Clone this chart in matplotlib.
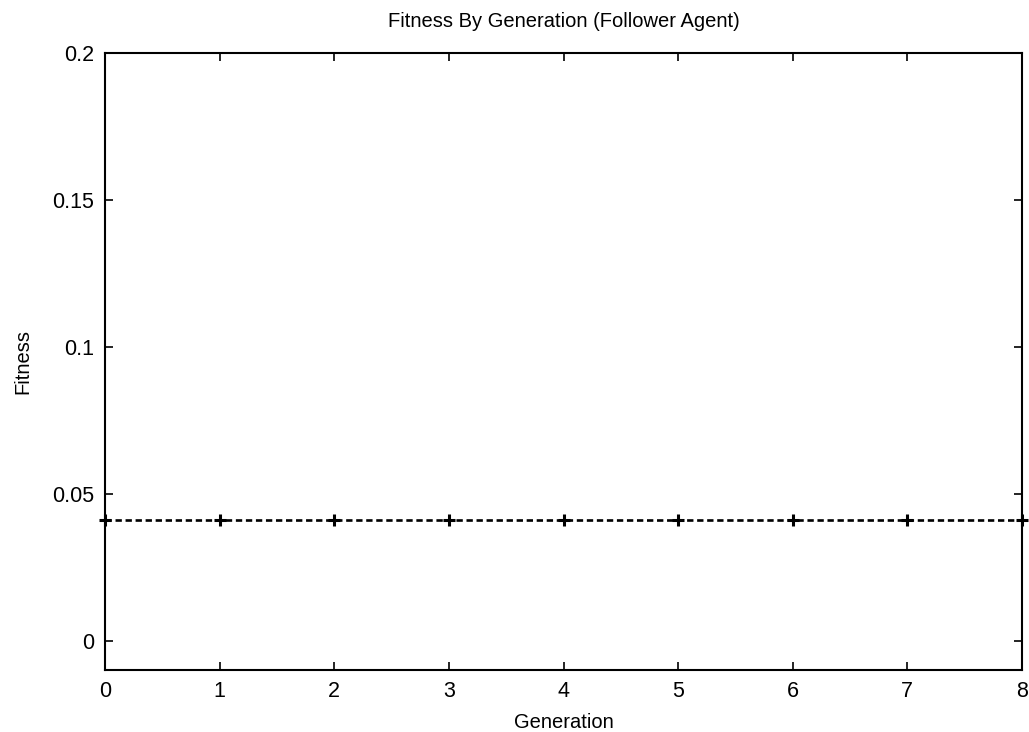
import matplotlib
matplotlib.use("Agg")
import matplotlib.pyplot as plt

# Fitness per generation for the follower agent
generations = [0, 1, 2, 3, 4, 5, 6, 7, 8]
fitness = [0.0412, 0.0412, 0.0412, 0.0412, 0.0412, 0.0412, 0.0412, 0.0412, 0.0412]
y_ticks = [0, 0.05, 0.1, 0.15, 0.2]
y_tick_labels = ["0", "0.05", "0.1", "0.15", "0.2"]

plt.rcParams['font.family'] = ['Liberation Sans', 'DejaVu Sans']
plt.rcParams['font.size'] = 14.5

fig = plt.figure(figsize=(10.29, 7.32), dpi=100)
ax = fig.add_axes([105 / 1029, 62 / 732, 917 / 1029, 617 / 732])

ax.plot(generations, fitness, color='black', linestyle=(0, (2.4, 1.4)), linewidth=1.9,
        marker='+', markersize=8, markeredgewidth=2.2, clip_on=False)

ax.set_xlim(0, 8)
ax.set_ylim(-0.01, 0.2)
ax.set_xticks(generations)
ax.set_yticks(y_ticks)
ax.set_yticklabels(y_tick_labels)
ax.tick_params(direction='in', top=True, right=True, length=6, width=1.2, pad=8,
               labelsize=15.5)
for s in ax.spines.values():
    s.set_linewidth(1.5)

ax.set_title('Fitness By Generation (Follower Agent)', fontsize=14.5, pad=19)
ax.set_xlabel('Generation', labelpad=8)
ax.set_ylabel('Fitness', labelpad=14)

fig.savefig("out.png", dpi=100)
